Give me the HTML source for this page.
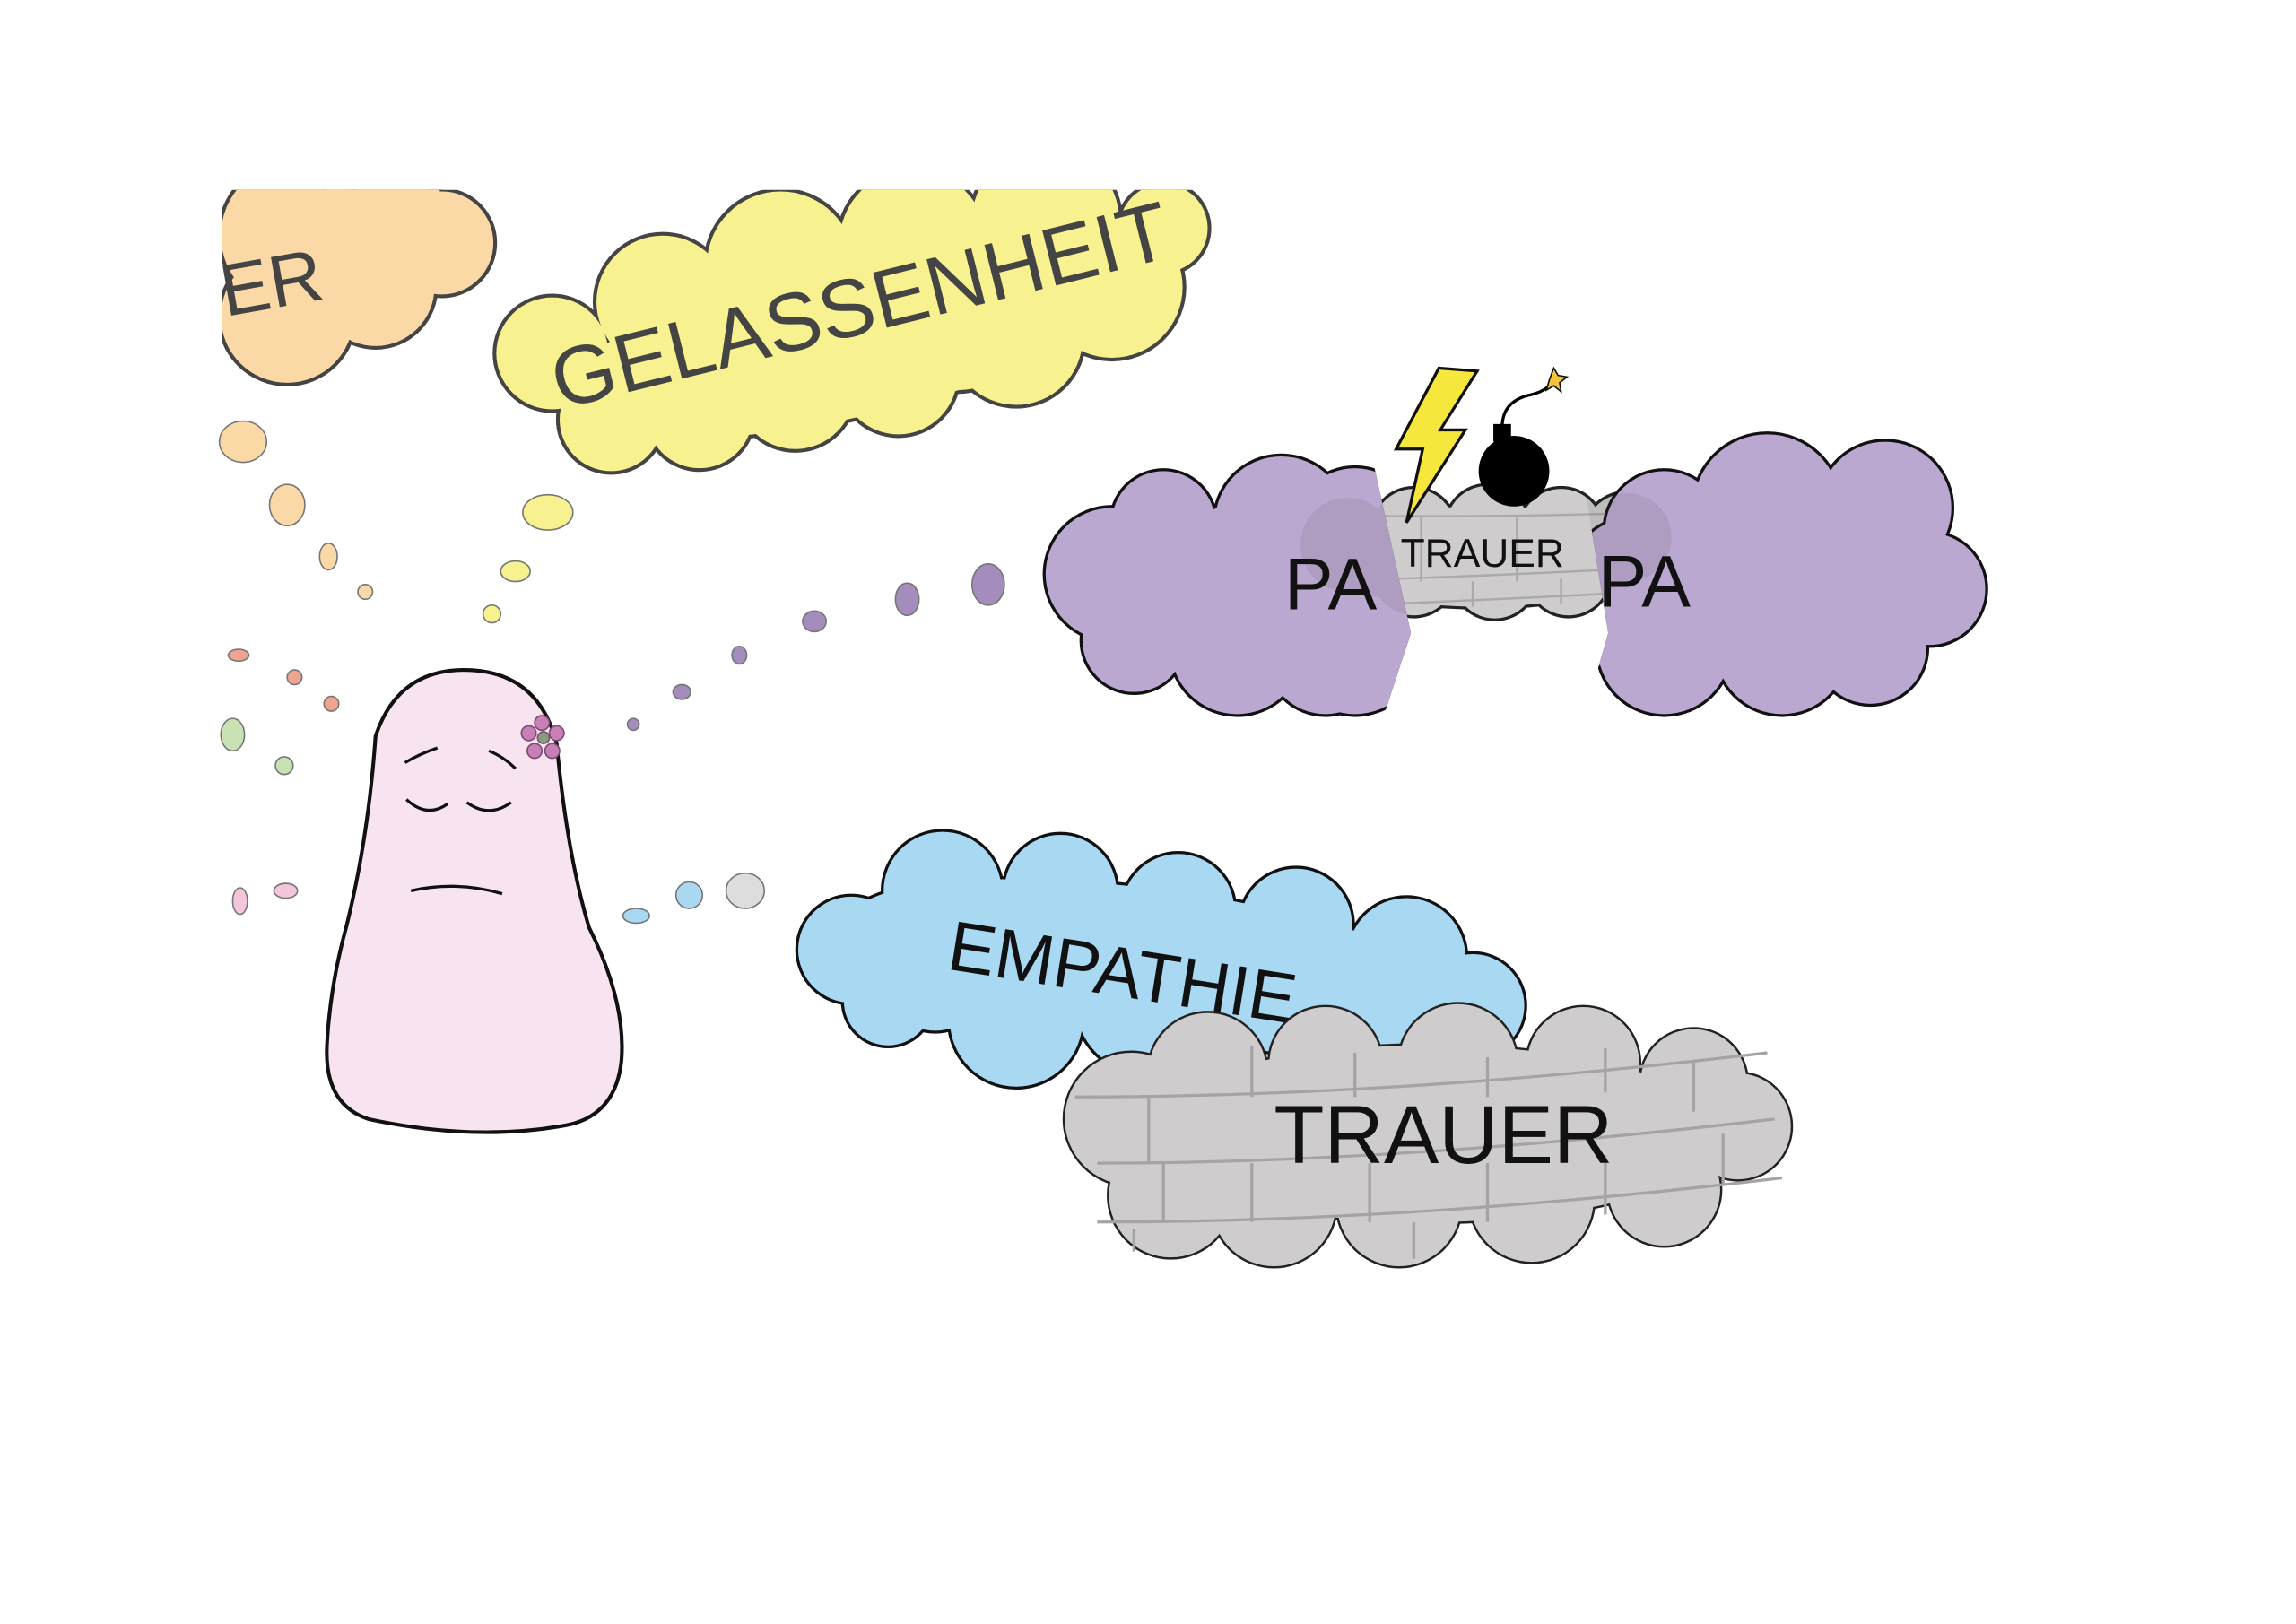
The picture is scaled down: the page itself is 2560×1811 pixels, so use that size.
<!DOCTYPE html>
<html><head><meta charset="utf-8"><style>html,body{margin:0;padding:0;background:#fff}svg{display:block}</style></head>
<body>
<svg width="2560" height="1811" viewBox="0 0 1559 1103" preserveAspectRatio="none" xmlns="http://www.w3.org/2000/svg" font-family="Liberation Sans, sans-serif">
<defs>
<clipPath id="top"><rect x="151" y="129" width="1400" height="1000"/></clipPath>
<clipPath id="pl"><polygon points="690,280 925,280 958,430 935,500 690,500"/></clipPath>
<clipPath id="pr"><polygon points="1068,280 1400,280 1400,500 1072,500 1092,430"/></clipPath>
<g id="gc">
 <ellipse cx="1005" cy="378" rx="118" ry="34"/><circle cx="915" cy="370" r="32"/><circle cx="960" cy="360" r="28"/><circle cx="1010" cy="358" r="28"/><circle cx="1060" cy="360" r="28"/><circle cx="1105" cy="365" r="30"/><circle cx="960" cy="390" r="28"/><circle cx="1015" cy="392" r="28"/><circle cx="1065" cy="390" r="28"/>
</g>
<g id="pL"><circle cx="755" cy="390" r="45"/><circle cx="770" cy="435" r="35"/><circle cx="840" cy="440" r="45"/><circle cx="900" cy="445" r="40"/><circle cx="790" cy="355" r="35"/><circle cx="870" cy="355" r="45"/><circle cx="850" cy="400" r="60"/><circle cx="915" cy="400" r="55"/><circle cx="920" cy="360" r="42"/><circle cx="920" cy="440" r="45"/></g>
<g id="pR"><circle cx="1130" cy="440" r="45"/><circle cx="1210" cy="440" r="45"/><circle cx="1270" cy="440" r="38"/><circle cx="1310" cy="400" r="38"/><circle cx="1280" cy="345" r="45"/><circle cx="1200" cy="345" r="50"/><circle cx="1130" cy="360" r="40"/><circle cx="1210" cy="395" r="70"/><circle cx="1115" cy="405" r="55"/></g>
<g id="yc"><circle cx="375" cy="240" r="38"/><circle cx="415" cy="285" r="35"/><circle cx="475" cy="282" r="36"/><circle cx="540" cy="265" r="40"/><circle cx="610" cy="255" r="40"/><circle cx="690" cy="230" r="45"/><circle cx="755" cy="195" r="48"/><circle cx="790" cy="155" r="30"/><circle cx="450" cy="205" r="45"/><circle cx="530" cy="180" r="50"/><circle cx="620" cy="165" r="50"/><circle cx="710" cy="150" r="50"/><circle cx="560" cy="230" r="55"/><circle cx="650" cy="210" r="55"/><ellipse cx="590" cy="222" rx="210" ry="58" transform="rotate(-14 590 222)"/></g>
<g id="bc"><circle cx="578" cy="645" r="36"/><circle cx="603" cy="680" r="30"/><circle cx="640" cy="605" r="40"/><circle cx="720" cy="605" r="38"/><circle cx="800" cy="618" r="38"/><circle cx="880" cy="628" r="38"/><circle cx="955" cy="650" r="40"/><circle cx="1000" cy="683" r="35"/><circle cx="690" cy="693" r="45"/><circle cx="780" cy="680" r="50"/><circle cx="870" cy="670" r="45"/><ellipse cx="790" cy="655" rx="215" ry="50" transform="rotate(8 790 655)"/><circle cx="635" cy="665" r="35"/></g>
<g id="gb"><circle cx="768" cy="760" r="45"/><circle cx="795" cy="812" r="42"/><circle cx="865" cy="818" r="42"/><circle cx="950" cy="818" r="42"/><circle cx="1040" cy="815" r="42"/><circle cx="1130" cy="808" r="38"/><circle cx="1180" cy="765" r="36"/><circle cx="820" cy="728" r="40"/><circle cx="900" cy="722" r="38"/><circle cx="990" cy="722" r="40"/><circle cx="1075" cy="722" r="38"/><circle cx="1150" cy="735" r="36"/><ellipse cx="970" cy="770" rx="200" ry="60"/></g>
<g id="oc"><circle cx="195" cy="215" r="45"/><circle cx="255" cy="195" r="40"/><circle cx="300" cy="165" r="35"/><circle cx="200" cy="160" r="50"/><circle cx="260" cy="140" r="40"/></g>
</defs>
<rect width="1559" height="1103" fill="#fff"/>
<g clip-path="url(#top)">
 <use href="#oc" stroke="#444" stroke-width="5"/><use href="#oc" fill="#fbd9a6"/>
 <text x="150" y="210" font-size="50" fill="#444" transform="rotate(-10 180 195)">ER</text>
 <use href="#yc" stroke="#444" stroke-width="5"/><use href="#yc" fill="#f7f28f"/>
 <text x="380" y="278" font-size="56" fill="#444" textLength="430" transform="rotate(-14 380 278)">GELASSENHEIT</text>
</g>
<use href="#gc" stroke="#222" stroke-width="4" fill="none"/>
<use href="#gc" fill="#cfcccd"/>
<g stroke="#aaa" stroke-width="1.5" fill="none"><path d="M890 350 Q1000 352 1125 348"/><path d="M885 395 Q1000 392 1130 385"/><path d="M900 412 Q1000 408 1115 402"/><path d="M965 350 V395 M1030 350 V395 M1090 350 V392 M1000 395 V412 M1060 393 V410"/></g>
<text x="951" y="385" font-size="27" fill="#111">TRAUER</text>
<g clip-path="url(#pl)"><use href="#pL" stroke="#111" stroke-width="4"/><use href="#pL" fill="#bba8d0"/></g>
<g clip-path="url(#pr)"><use href="#pR" stroke="#111" stroke-width="4"/><use href="#pR" fill="#bba8d0"/></g>
<g clip-path="url(#pl)" opacity="0.12"><use href="#gc" fill="#555"/></g>
<g clip-path="url(#pr)" opacity="0.12"><use href="#gc" fill="#555"/></g>
<text x="872" y="414" font-size="50" fill="#111">PA</text>
<text x="1085" y="412" font-size="50" fill="#111">PA</text>
<polygon points="977,250 1003,252 978,292 995,292 955,355 966,305 948,305" fill="#f5e73c" stroke="#111" stroke-width="2"/>
<circle cx="1028" cy="320" r="24" fill="#000"/><rect x="1014" y="288" width="12" height="12" fill="#000"/>
<path d="M1020 290 Q1020 272 1040 268 Q1052 265 1055 257" fill="none" stroke="#000" stroke-width="2"/>
<polygon points="1055,250 1058,255 1064,256 1059,260 1060,266 1055,262 1050,265 1052,258" fill="#f5c23c" stroke="#111" stroke-width="1"/>
<use href="#bc" stroke="#111" stroke-width="4"/><use href="#bc" fill="#a9d9f2"/>
<text x="642" y="658" font-size="48" fill="#111" transform="rotate(9 642 658)">EMPATHIE</text>
<use href="#gb" stroke="#222" stroke-width="3"/><use href="#gb" fill="#cfcccd"/>
<g stroke="#a5a3a4" stroke-width="2" fill="none"><path d="M730 745 Q950 745 1200 715"/><path d="M745 790 Q950 790 1205 760"/><path d="M745 830 Q960 830 1210 800"/>
<path d="M780 745 V790 M850 710 V745 M920 715 V745 M1010 718 V745 M1090 712 V742 M1150 720 V755 M790 790 V830 M850 790 V830 M930 790 V830 M1010 790 V830 M1090 785 V825 M1170 770 V805 M770 835 V850 M960 830 V855"/></g>
<text x="865" y="790" font-size="56" fill="#111">TRAUER</text>
<g stroke="#777" stroke-width="1">
<ellipse cx="165" cy="300" rx="16" ry="14" fill="#fbd9a6"/><ellipse cx="195" cy="343" rx="12" ry="14" fill="#fbd9a6"/><ellipse cx="223" cy="378" rx="6" ry="9" fill="#fbd9a6"/><ellipse cx="248" cy="402" rx="5" ry="5" fill="#fbd9a6"/>
<ellipse cx="372" cy="348" rx="17" ry="12" fill="#f7f28f"/><ellipse cx="350" cy="388" rx="10" ry="7" fill="#f7f28f"/><ellipse cx="334" cy="417" rx="6" ry="6" fill="#f7f28f"/>
<ellipse cx="671" cy="397" rx="11" ry="14" fill="#a48cbd"/><ellipse cx="616" cy="407" rx="8" ry="11" fill="#a48cbd"/><ellipse cx="553" cy="422" rx="8" ry="7" fill="#a48cbd"/><ellipse cx="502" cy="445" rx="5" ry="6" fill="#a48cbd"/><ellipse cx="463" cy="470" rx="6" ry="5" fill="#a48cbd"/><ellipse cx="430" cy="492" rx="4" ry="4" fill="#a48cbd"/>
<ellipse cx="162" cy="445" rx="7" ry="4" fill="#f0a48f"/><ellipse cx="200" cy="460" rx="5" ry="5" fill="#f0a48f"/><ellipse cx="225" cy="478" rx="5" ry="5" fill="#f0a48f"/>
<ellipse cx="158" cy="499" rx="8" ry="11" fill="#c9e2b4"/><ellipse cx="193" cy="520" rx="6" ry="6" fill="#c9e2b4"/>
<ellipse cx="163" cy="612" rx="5" ry="9" fill="#f4c6dc"/><ellipse cx="194" cy="605" rx="8" ry="5" fill="#f4c6dc"/>
<ellipse cx="506" cy="605" rx="13" ry="12" fill="#ddd"/><ellipse cx="468" cy="608" rx="9" ry="9" fill="#a9d9f2"/><ellipse cx="432" cy="622" rx="9" ry="5" fill="#a9d9f2"/>
</g>
<path d="M255 500 Q270 455 315 455 Q365 455 378 505 Q385 580 400 630 Q425 680 422 720 Q418 760 380 765 Q320 775 250 760 Q220 750 222 710 Q224 670 235 630 Q250 570 255 500 Z" fill="#f7e4f0" stroke="#111" stroke-width="2.5"/>
<g fill="none" stroke="#111" stroke-width="2"><path d="M275 518 Q285 512 297 508"/><path d="M332 510 Q342 514 350 522"/><path d="M276 543 Q290 556 304 546"/><path d="M317 545 Q332 556 347 545"/><path d="M279 605 Q310 598 341 607"/></g>
<g fill="#c77fb5" stroke="#7a4c70" stroke-width="1"><circle cx="368" cy="491" r="5"/><circle cx="378" cy="498" r="5"/><circle cx="375" cy="510" r="5"/><circle cx="363" cy="510" r="5"/><circle cx="359" cy="498" r="5"/><circle cx="369" cy="501" r="4" fill="#8a9a80"/></g>
</svg>
</body></html>
